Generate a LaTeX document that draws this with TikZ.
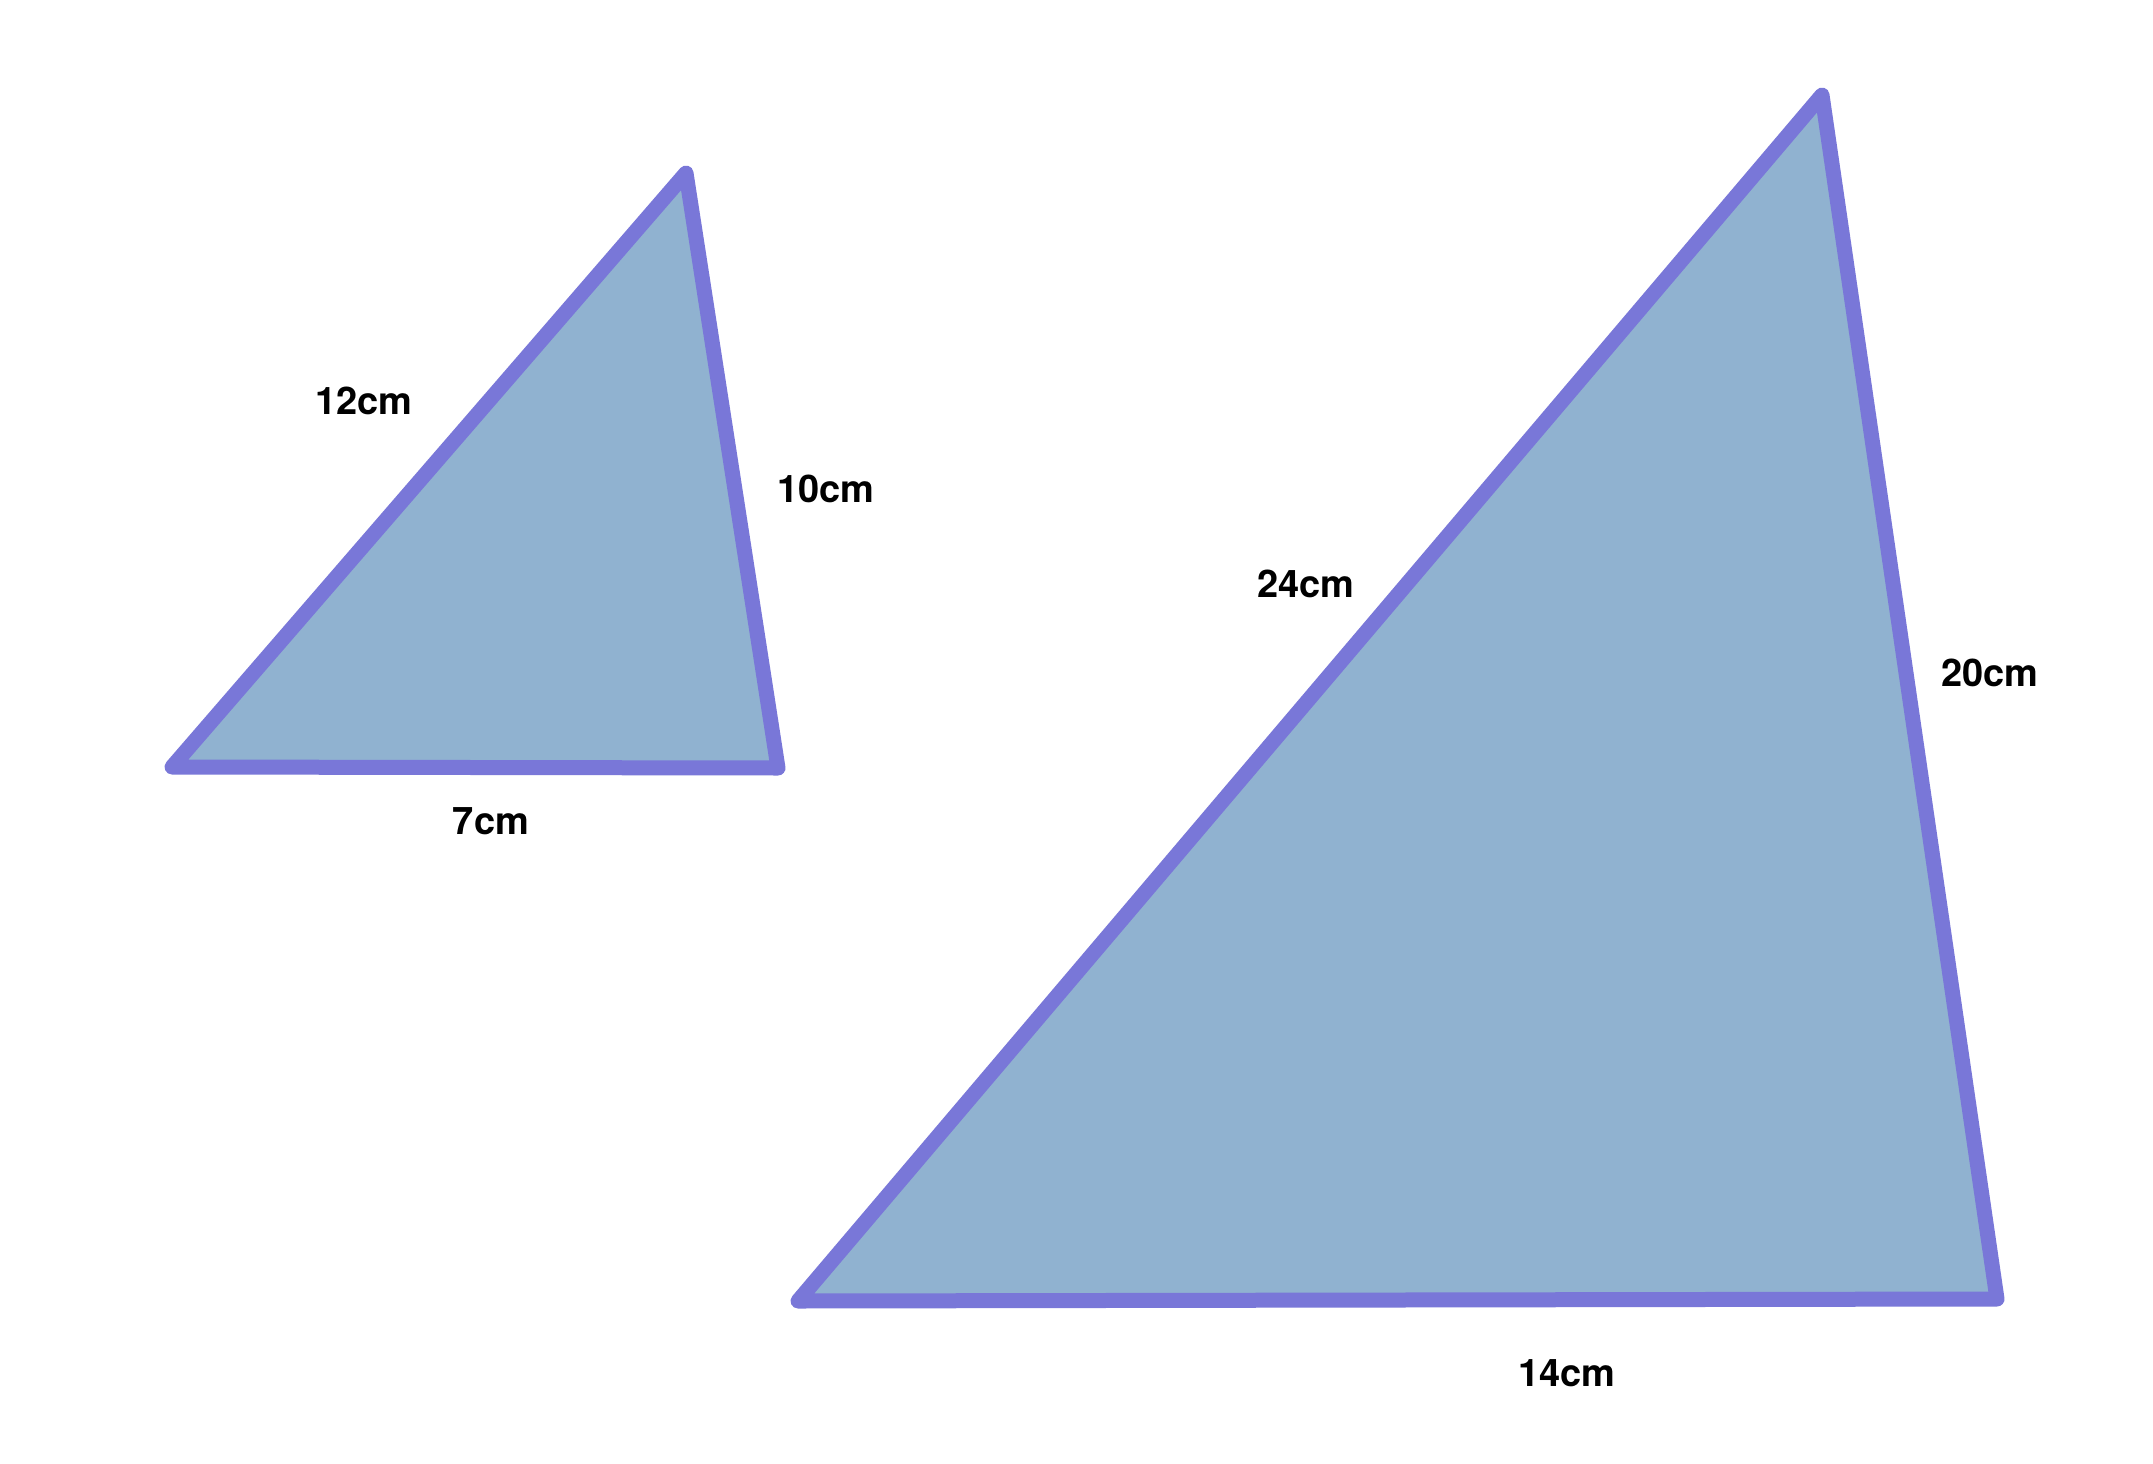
\documentclass[tikz,border=0pt]{standalone}
\usepackage{fontspec}
\setmainfont{TeX Gyre Heros}
\definecolor{edgeblue}{HTML}{7977D8}
\definecolor{fillblue}{HTML}{90B2D0}
\tikzset{
  tri/.style={draw=edgeblue, fill=fillblue, line width=15pt, line join=round, line cap=round},
  lbl/.style={inner sep=0pt, font=\fontsize{38}{44}\selectfont\bfseries, text=black}
}
\begin{document}
\begin{tikzpicture}[x=1pt,y=-1pt]
\useasboundingbox[fill=white] (0,0) rectangle (2153,1464);
% small triangle
\coordinate (sa) at (686,173);
\coordinate (sb) at (172,767);
\coordinate (sc) at (778,768);
\draw[tri] (sa) -- (sb) -- (sc) -- cycle;
% big triangle
\coordinate (ba) at (1822,95);
\coordinate (bb) at (798,1301);
\coordinate (bc) at (1997,1299);
\draw[tri] (ba) -- (bb) -- (bc) -- cycle;
% labels
\node[lbl] (l12) at (364,401) {12cm};
\node[lbl] (l10) at (826,489) {10cm};
\node[lbl] (l7) at (491,821) {7cm};
\node[lbl] (l24) at (1306,584) {24cm};
\node[lbl] (l20) at (1990,673) {20cm};
\node[lbl] (l14) at (1567,1373) {14cm};
\end{tikzpicture}
\end{document}
